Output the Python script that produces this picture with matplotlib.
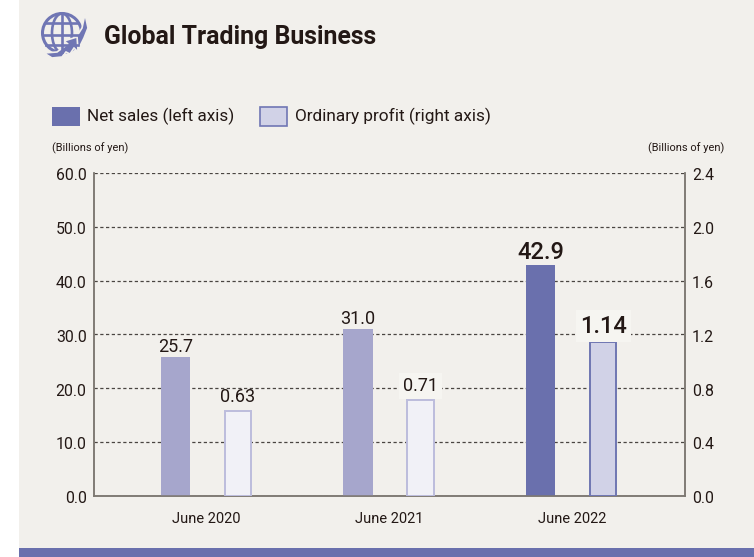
import matplotlib
matplotlib.use('Agg')
import matplotlib.pyplot as plt
from matplotlib.patches import Rectangle, Circle, Ellipse, Polygon
from matplotlib.transforms import ScaledTranslation

# Datos
periods = ['June 2020', 'June 2021', 'June 2022']
net_sales = [25.7, 31.0, 42.9]
ordinary_profit = [0.63, 0.71, 1.14]
sales_labels = ['25.7', '31.0', '42.9']
profit_labels = ['0.63', '0.71', '1.14']
left_ticks = [0.0, 10.0, 20.0, 30.0, 40.0, 50.0, 60.0]
right_ticks = [0.0, 0.4, 0.8, 1.2, 1.6, 2.0, 2.4]

BG = '#f2f0ec'
DARK = '#231815'
PURPLE = '#6a70ad'
ICON = '#7076b4'
AXIS = '#7d7872'
W, H = 754, 557

plt.rcParams['font.family'] = ['Roboto', 'Liberation Sans']

fig = plt.figure(figsize=(W / 100, H / 100), dpi=100, facecolor='white')

# Capa de fondo en pixeles
bg = fig.add_axes([0, 0, 1, 1], zorder=0)
bg.set_xlim(0, W)
bg.set_ylim(H, 0)
bg.axis('off')
bg.add_patch(Rectangle((19, 0), W - 19, 548, fc=BG, ec='none'))
bg.add_patch(Rectangle((19, 548), W - 19, 9, fc=PURPLE, ec='none'))

# Icono del globo
cx, cy = 62, 33
bg.add_patch(Circle((cx, cy), 19.5, fc='none', ec=ICON, lw=2.2))
bg.add_patch(Ellipse((cx, cy), 20, 39, fc='none', ec=ICON, lw=1.9))
bg.plot([cx, cx], [cy - 19, cy + 19], color=ICON, lw=1.9)
bg.plot([cx - 19, cx + 19], [cy + 2, cy + 2], color=ICON, lw=1.9)
bg.plot([cx - 16, cx + 16], [cy - 10, cy - 10], color=ICON, lw=1.9)
bg.plot([cx - 16, cx + 16], [cy + 12, cy + 12], color=ICON, lw=1.9)
bg.add_patch(Polygon([(44, 53), (57, 52), (68, 44), (64, 41), (80, 36), (78, 52), (74, 48),
                      (70, 54), (66, 52), (62, 57), (52, 58)], fc=ICON, ec=BG, lw=1.2))
bg.add_patch(Polygon([(85, 14), (88, 28), (84, 38), (78, 50), (77, 36), (82, 28)], fc=ICON, ec=BG, lw=1.2))

bg.text(104, 37, 'Global Trading Business', fontsize=17.9, fontweight='bold', color=DARK, va='center')

# Leyenda
bg.add_patch(Rectangle((52, 107), 28, 19, fc=PURPLE, ec='none'))
bg.text(87, 116.5, 'Net sales (left axis)', fontsize=12.3, color=DARK, va='center')
bg.add_patch(Rectangle((260, 107), 27, 19, fc='#d1d2e7', ec=ICON, lw=1.2))
bg.text(295, 116.5, 'Ordinary profit (right axis)', fontsize=12.4, color=DARK, va='center')

bg.text(52, 148, '(Billions of yen)', fontsize=7.9, color=DARK, va='center')
bg.text(724, 148, '(Billions of yen)', fontsize=7.9, color=DARK, va='center', ha='right')

# Grafico principal
ax = fig.add_axes([93.5 / W, 1 - 495.7 / H, 591.5 / W, 322.8 / H], zorder=1)
ax.patch.set_alpha(0)
ax2 = ax.twinx()
ax2.set_zorder(2)
ax2.patch.set_alpha(0)

ax.set_xlim(-0.618, 2.618)
ax.set_ylim(0, 60)
ax2.set_ylim(0, 2.4)

ax.set_yticks(left_ticks)
ax.set_yticklabels([f'{v:.1f}' for v in left_ticks])
ax2.set_yticks(right_ticks)
ax2.set_yticklabels([f'{v:.1f}' for v in right_ticks])
ax.set_xticks(range(len(periods)))
ax.set_xticklabels(periods)

ax.grid(axis='y', color='#4a4541', lw=0.9, linestyle=(0, (2.6, 2.0)), zorder=1)
ax.set_axisbelow(True)

ax.tick_params(axis='y', length=0, pad=5, labelsize=11.4, labelcolor=DARK)
ax2.tick_params(axis='y', length=0, pad=5, labelsize=11.4, labelcolor=DARK)
ax.tick_params(axis='x', length=0, pad=12, labelsize=10.5, labelcolor=DARK)

# Las etiquetas del eje y quedan un poco por debajo de la linea
shift = ScaledTranslation(0, -1.5 / 100, fig.dpi_scale_trans)
for axis in (ax, ax2):
    for label in axis.get_yticklabels():
        label.set_transform(label.get_transform() + shift)

for axis in (ax, ax2):
    axis.spines['top'].set_visible(False)
    for side in ('left', 'right', 'bottom'):
        axis.spines[side].set_color(AXIS)
        axis.spines[side].set_linewidth(1.1)

sales_colors = ['#a6a6cc', '#a6a6cc', PURPLE]
profit_colors = ['#f1f1f7', '#f1f1f7', '#d1d2e7']
profit_edges = ['#bcbcdc', '#bcbcdc', '#6f76b2']

# Barras de ventas en el eje izquierdo, beneficio en el derecho
for i in range(len(periods)):
    ax.bar(i - 0.171, net_sales[i], 0.159, color=sales_colors[i], zorder=3)
    ax2.bar(i + 0.171, ordinary_profit[i], 0.143, color=profit_colors[i],
            edgecolor=profit_edges[i], linewidth=1.4, zorder=3)

    bold = i == 2
    size = 17 if bold else 13
    weight = 'medium' if bold else 'normal'
    ax.annotate(sales_labels[i], (i - 0.171, net_sales[i]), xytext=(0, 1), textcoords='offset points',
                ha='center', va='bottom', fontsize=size, color=DARK, fontweight=weight)
    box = None
    if i > 0:
        box = dict(fc='#f6f5f1', ec='none', pad=3)
    ax2.annotate(profit_labels[i], (i + 0.171, ordinary_profit[i]), xytext=(0, 3.5), textcoords='offset points',
                 ha='center', va='bottom', fontsize=size, color=DARK, fontweight=weight, bbox=box)

fig.savefig('out.png', dpi=100, facecolor='white')
